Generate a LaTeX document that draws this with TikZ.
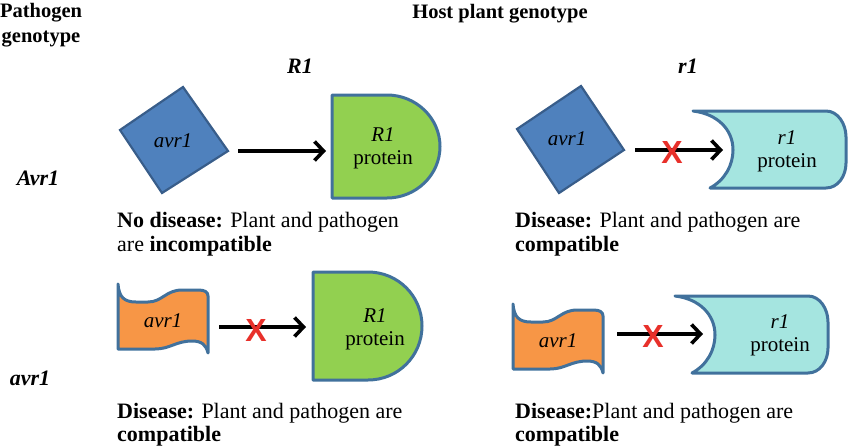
\documentclass[tikz,border=0pt]{standalone}
\usepackage{fontspec}
\setmainfont{Liberation Serif}
\newfontfamily\xfont{Liberation Sans}
\usetikzlibrary{arrows.meta}
\definecolor{dblue}{HTML}{4F81BD}
\definecolor{dbord}{HTML}{385D8A}
\definecolor{sbord}{HTML}{41719C}
\definecolor{lgreen}{HTML}{92D050}
\definecolor{lcyan}{HTML}{A5E5E0}
\definecolor{lorange}{HTML}{F79646}
\definecolor{xred}{HTML}{E8302A}
\tikzset{
  bodytxt/.style={font=\fontsize{22}{24}\selectfont, inner sep=0pt, anchor=base west},
  headtxt/.style={font=\fontsize{20.5}{25}\selectfont\bfseries, inner sep=0pt, align=center},
  labtxt/.style={font=\fontsize{22}{25}\selectfont\bfseries\itshape, inner sep=0pt},
  shapetxt/.style={font=\fontsize{21}{23}\selectfont, inner sep=0pt, align=center},
  avrshape/.style={fill=dblue, draw=dbord, line width=2.2pt, line join=miter},
  rshape/.style={fill=lgreen, draw=sbord, line width=3pt, line join=round},
  cshape/.style={fill=lcyan, draw=sbord, line width=3pt, line join=round},
  oshape/.style={fill=lorange, draw=sbord, line width=3pt, line join=round},
  conn/.style={line width=3.6pt, -{Straight Barb[length=9pt,width=19pt]}},
  xmark/.style={font=\xfont\bfseries\fontsize{32}{32}\selectfont, text=xred, inner sep=0pt}
}
\begin{document}
\begin{tikzpicture}[x=1pt,y=-1pt]
\useasboundingbox (0,0) rectangle (850,447);

% headings
\node[headtxt] (hpath) at (41,25) {Pathogen\\genotype};
\node[headtxt] (hhost) at (500,14) {Host plant genotype};
\node[labtxt] (lR1) at (300,66) {R1};
\node[labtxt] (lr1) at (688,66) {r1};
\node[labtxt] (lAvr) at (38,178) {Avr1};
\node[labtxt] (lavr) at (30,378) {avr1};

% ---------- top left: Avr1 x R1 ----------
\path[avrshape] (120,130) -- (183,87) -- (228,151) -- (162,193) -- cycle;
\node[shapetxt] (t1) at (173,141) {\itshape avr1};
\path[rshape] (332,95) -- (387,95) .. controls (416,95) and (440,118) .. (440,146.5)
   .. controls (440,175) and (416,198) .. (387,198) -- (332,198) -- cycle;
\node[shapetxt] (p1) at (383,148) {\itshape R1\\protein};
\coordinate (a1s) at (238,151);
\coordinate (a1e) at (326,151);
\draw[conn] (a1s) -- (a1e);

% ---------- top right: Avr1 x r1 ----------
\path[avrshape] (517,129) -- (581,86) -- (624,150) -- (559,193) -- cycle;
\node[shapetxt] (t2) at (567,139) {\itshape avr1};
\path[cshape] (693,111) -- (826,111) .. controls (838,111) and (846,124) .. (846,137)
   -- (846,163) .. controls (846,176) and (838,188) .. (826,188) -- (710,188)
   .. controls (725,180) and (733,165) .. (733,150)
   .. controls (733,130) and (718,114) .. (693,111) -- cycle;
\node[shapetxt] (p2) at (787,151) {\itshape r1\\protein};
\coordinate (a2s) at (635,150);
\coordinate (a2e) at (723,150);
\draw[conn] (a2s) -- (a2e);
\node[xmark] (x2) at (672,152) {X};

% ---------- bottom left: avr1 x R1 ----------
\path[oshape] (118,284) .. controls (119,297) and (124,302) .. (136,302) -- (148,302)
   .. controls (162,302) and (166,290) .. (182,290) -- (198,290)
   .. controls (205,290) and (208,292) .. (208,296) -- (208,353)
   .. controls (206,345) and (202,341) .. (192,341)
   .. controls (176,341) and (170,349) .. (155,349) -- (118,349) -- cycle;
\node[shapetxt] (t3) at (163,321) {\itshape avr1};
\path[rshape] (313,272) -- (368,272) .. controls (398,272) and (422,296) .. (422,326)
   .. controls (422,356) and (398,380) .. (368,380) -- (313,380) -- cycle;
\node[shapetxt] (p3) at (375,329) {\itshape R1\\protein};
\coordinate (a3s) at (219,327);
\coordinate (a3e) at (306,327);
\draw[conn] (a3s) -- (a3e);
\node[xmark] (x3) at (256,330) {X};

% ---------- bottom right: avr1 x r1 ----------
\begin{scope}[shift={(395,20)}]
\path[oshape] (118,284) .. controls (119,297) and (124,302) .. (136,302) -- (148,302)
   .. controls (162,302) and (166,290) .. (182,290) -- (198,290)
   .. controls (205,290) and (208,292) .. (208,296) -- (208,353)
   .. controls (206,345) and (202,341) .. (192,341)
   .. controls (176,341) and (170,349) .. (155,349) -- (118,349) -- cycle;
\end{scope}
\node[shapetxt] (t4) at (558,341) {\itshape avr1};
\begin{scope}[shift={(-18,185)}]
\path[cshape] (693,111) -- (826,111) .. controls (838,111) and (846,124) .. (846,137)
   -- (846,163) .. controls (846,176) and (838,188) .. (826,188) -- (710,188)
   .. controls (725,180) and (733,165) .. (733,150)
   .. controls (733,130) and (718,114) .. (693,111) -- cycle;
\end{scope}
\node[shapetxt] (p4) at (780,335) {\itshape r1\\protein};
\coordinate (a4s) at (617,334);
\coordinate (a4e) at (703,334);
\draw[conn] (a4s) -- (a4e);
\node[xmark] (x4) at (653,336) {X};

% ---------- captions ----------
\node[bodytxt] (c1a) at (117,227) {\textbf{No disease:} Plant and pathogen};
\node[bodytxt] (c1b) at (117,251) {are \textbf{incompatible}};
\node[bodytxt] (c2a) at (515,227) {\textbf{Disease:} Plant and pathogen are};
\node[bodytxt] (c2b) at (515,251) {\textbf{compatible}};
\node[bodytxt] (c3a) at (117,418) {\textbf{Disease:} Plant and pathogen are};
\node[bodytxt] (c3b) at (117,441) {\textbf{compatible}};
\node[bodytxt] (c4a) at (515,418) {\textbf{Disease:}Plant and pathogen are};
\node[bodytxt] (c4b) at (515,441) {\textbf{compatible}};
\end{tikzpicture}
\end{document}
